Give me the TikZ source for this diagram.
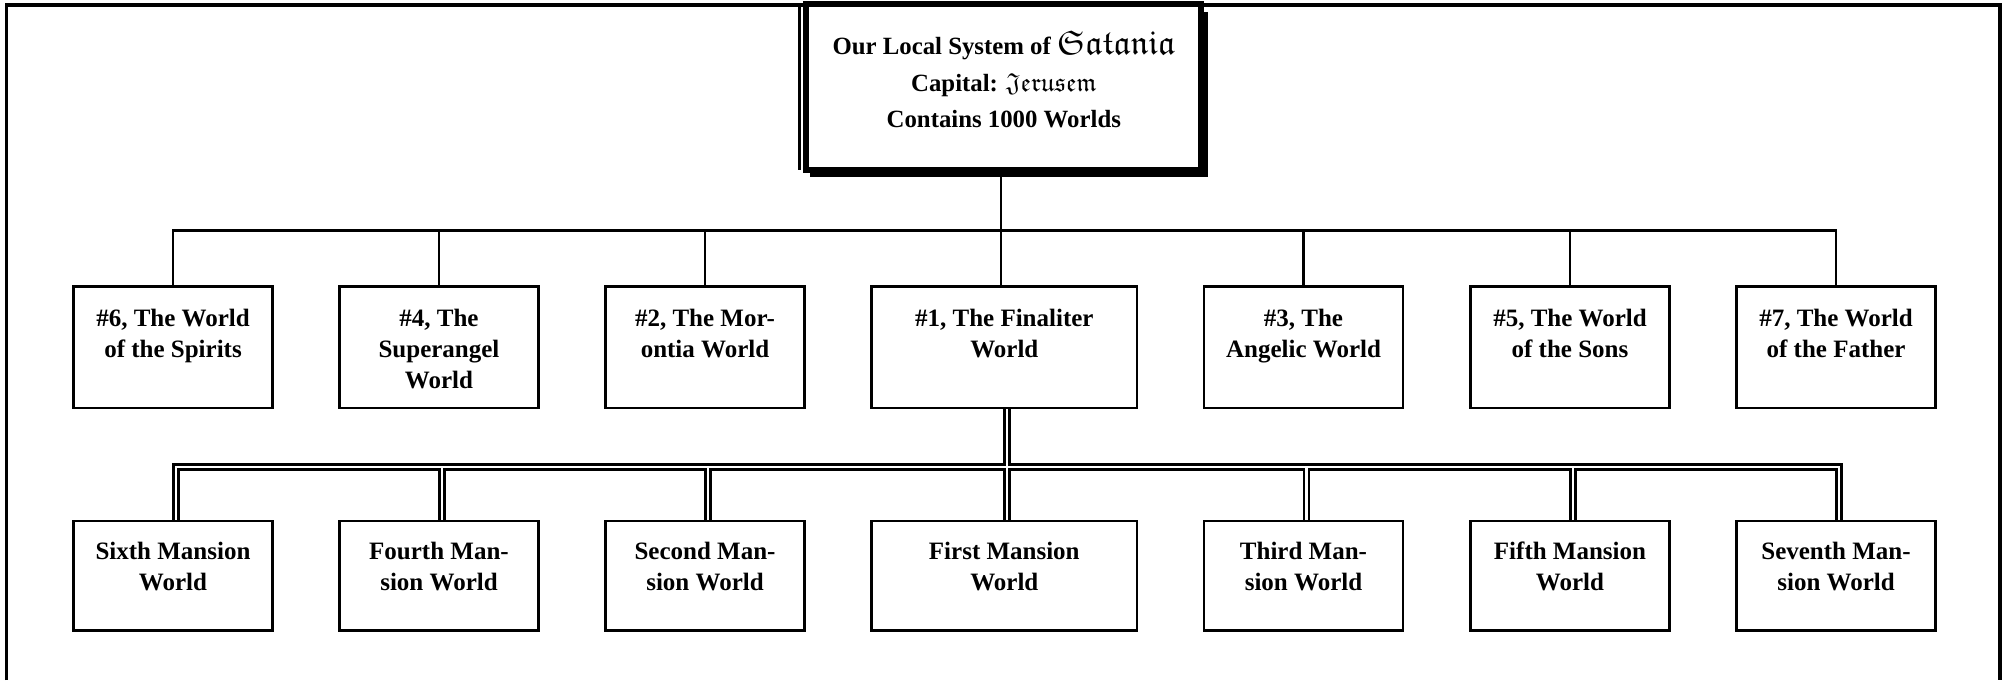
\documentclass[tikz,border=0pt]{standalone}
\usepackage{amssymb}
\usepackage{fontspec}
\setmainfont{Liberation Serif}
\usetikzlibrary{calc}
\newcommand{\boxtext}[4]{\parbox[c][#2][t]{#1}{\centering\rule{0pt}{#3}#4\par}}
\newcommand{\gothA}[1]{{\fontsize{34}{34}\selectfont$\mathfrak{#1}$}}
\newcommand{\gothB}[1]{{\fontsize{26}{26}\selectfont$\mathfrak{#1}$}}
\tikzset{
  frameline/.style={line width=3.4pt},
  topbox/.style={draw, line width=6pt, inner sep=0pt, outer sep=0pt, anchor=north,
    font=\fontsize{24.8}{33.3}\selectfont\bfseries},
  worldbox/.style={draw, line width=2.7pt, inner sep=0pt, outer sep=0pt, anchor=north,
    font=\fontsize{25}{31}\selectfont\bfseries},
  link/.style={line width=2.7pt},
  dlinkout/.style={line width=7.3pt, line join=miter},
  dlinkin/.style={white, line width=2.6pt, line join=miter, shorten <=1.4pt, shorten >=1.4pt},
}
\begin{document}
\begin{tikzpicture}[x=1pt, y=-1pt]
\path[use as bounding box] (0,0) rectangle (2007,680);
% outer frame (open at bottom)
\draw[frameline] (6.5,680) -- (6.5,5) -- (2000,5) -- (2000,680);

% top box
\node[topbox] (top) at (1003.8,4) {\boxtext{395pt}{166pt}{50pt}{Our Local System of \gothA{Satania}\\[4.5pt]Capital: \gothB{Jerusem}\\[2.5pt]Contains 1000 Worlds}};
\draw[line width=2.3pt] ($(top.north west)+(-6.8,1)$) -- ($(top.south west)+(-6.8,0)$);
\draw[line width=4pt] ($(top.south west)+(4,4.7)$) -- ($(top.south east)+(4.7,4.7)$) -- ($(top.north east)+(4.7,8)$);

% row 1
\node[worldbox] (w6) at (173,286.5) {\boxtext{199pt}{121.5pt}{40.2pt}{\#6, The World\\of the Spirits}};
\node[worldbox] (w4) at (439,286.5) {\boxtext{199pt}{121.5pt}{40.2pt}{\#4, The\\Superangel\\World}};
\node[worldbox] (w2) at (705,286.5) {\boxtext{199pt}{121.5pt}{40.2pt}{\#2, The Mor-\\ontia World}};
\node[worldbox] (w1) at (1004.3,286.5) {\boxtext{265.5pt}{121.5pt}{40.2pt}{\#1, The Finaliter\\World}};
\node[worldbox] (w3) at (1303.5,286.5) {\boxtext{199pt}{121.5pt}{40.2pt}{\#3, The\\Angelic World}};
\node[worldbox] (w5) at (1570,286.5) {\boxtext{199pt}{121.5pt}{40.2pt}{\#5, The World\\of the Sons}};
\node[worldbox] (w7) at (1836,286.5) {\boxtext{199pt}{121.5pt}{40.2pt}{\#7, The World\\of the Father}};

% row 2
\node[worldbox] (m6) at (173,521) {\boxtext{199pt}{109.5pt}{38pt}{Sixth Mansion\\World}};
\node[worldbox] (m4) at (439,521) {\boxtext{199pt}{109.5pt}{38pt}{Fourth Man-\\sion World}};
\node[worldbox] (m2) at (705,521) {\boxtext{199pt}{109.5pt}{38pt}{Second Man-\\sion World}};
\node[worldbox] (m1) at (1004.3,521) {\boxtext{265.5pt}{109.5pt}{38pt}{First Mansion\\World}};
\node[worldbox] (m3) at (1303.5,521) {\boxtext{199pt}{109.5pt}{38pt}{Third Man-\\sion World}};
\node[worldbox] (m5) at (1570,521) {\boxtext{199pt}{109.5pt}{38pt}{Fifth Mansion\\World}};
\node[worldbox] (m7) at (1836,521) {\boxtext{199pt}{109.5pt}{38pt}{Seventh Man-\\sion World}};

% single connectors
\coordinate (hubA) at (1001,230.5);
\draw[link] (top.south -| hubA) -- (w1.north -| hubA);
\foreach \c in {w6,w4,w2,w3,w5,w7}
  \draw[link] (hubA) -| (\c.north);

% double connectors
\coordinate (hubB) at (1007,467.1);
\foreach \c in {m6,m4,m2,m3,m5,m7}
  \draw[dlinkout] (w1.south -| hubB) -- (hubB) -| ([xshift=3pt]\c.north);
\draw[dlinkout] (w1.south -| hubB) -- (m1.north -| hubB);
\foreach \c in {m6,m4,m2,m3,m5,m7}
  \draw[dlinkin] (w1.south -| hubB) -- (hubB) -| ([xshift=3pt]\c.north);
\draw[dlinkin] (w1.south -| hubB) -- (m1.north -| hubB);
\end{tikzpicture}
\end{document}
